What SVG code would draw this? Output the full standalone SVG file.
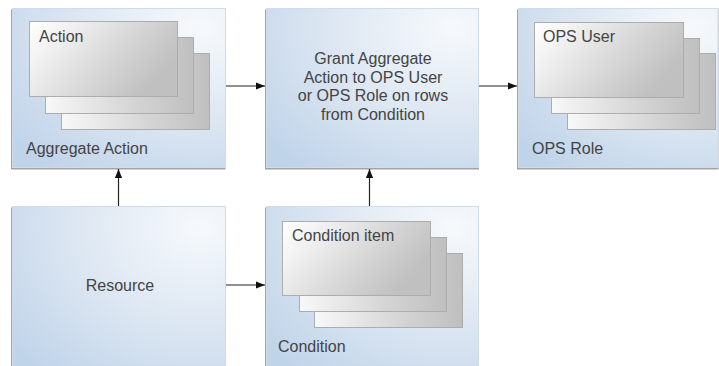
<svg xmlns="http://www.w3.org/2000/svg" width="719" height="366" viewBox="0 0 719 366">
  <defs>
    <radialGradient id="boxGrad" cx="0.88" cy="0.12" r="1.15" fx="0.88" fy="0.12">
      <stop offset="0" stop-color="#f6f9fc"/>
      <stop offset="0.5" stop-color="#dde7f2"/>
      <stop offset="1" stop-color="#bfd3e9"/>
    </radialGradient>
    <linearGradient id="cardGrad" x1="0" y1="0" x2="1" y2="0.45">
      <stop offset="0" stop-color="#ffffff"/>
      <stop offset="0.2" stop-color="#f4f4f4"/>
      <stop offset="0.65" stop-color="#d6d6d6"/>
      <stop offset="1" stop-color="#c0c0c0"/>
    </linearGradient>
    <linearGradient id="backGrad" x1="0" y1="0" x2="1" y2="0">
      <stop offset="0" stop-color="#f8f8f8"/>
      <stop offset="0.6" stop-color="#d4d4d4"/>
      <stop offset="1" stop-color="#bfbfbf"/>
    </linearGradient>
    <marker id="arrow" viewBox="0 0 10 10" refX="10" refY="5" markerWidth="9" markerHeight="9" markerUnits="userSpaceOnUse" orient="auto">
      <path d="M0,1 L10,5 L0,9 Z" fill="#111"/>
    </marker>
  </defs>
  <style>
    .shadow { fill: #a4a4a4; }
    .box { fill: url(#boxGrad); stroke: #cfdcea; stroke-width: 1; }
    .card { fill: url(#cardGrad); stroke: #adadad; stroke-width: 1; }
    .back { fill: url(#backGrad); stroke: #adadad; stroke-width: 1; }
    .lbl { font-family: "Liberation Sans", Arial, sans-serif; font-size: 16px; fill: #444444; }
    .mid { text-anchor: middle; }
    .conn { stroke: #222; stroke-width: 1.2; fill: none; marker-end: url(#arrow); }
  </style>

  <g id="aggregate-action">
    <rect class="shadow" x="11" y="9.5" width="214.5" height="160"/>
    <rect class="box" x="12.5" y="8.5" width="213" height="159"/>
    <rect class="back" x="61.5" y="53.5" width="148" height="76"/>
    <rect class="back" x="45.5" y="37.5" width="148" height="76"/>
    <rect class="card" x="29.5" y="21.5" width="148" height="75"/>
    <text class="lbl" x="39" y="42">Action</text>
    <text class="lbl" x="26" y="154">Aggregate Action</text>
  </g>

  <g id="grant">
    <rect class="shadow" x="265" y="9.5" width="214" height="160"/>
    <rect class="box" x="266.5" y="8.5" width="212" height="159"/>
    <text class="lbl mid" x="373" y="64">Grant Aggregate</text>
    <text class="lbl mid" x="373" y="82.7">Action to OPS User</text>
    <text class="lbl mid" x="373" y="101.4">or OPS Role on rows</text>
    <text class="lbl mid" x="373" y="120">from Condition</text>
  </g>

  <g id="ops-role">
    <rect class="shadow" x="517" y="9.5" width="201.5" height="160"/>
    <rect class="box" x="518.5" y="8.5" width="199.5" height="159"/>
    <rect class="back" x="567.5" y="53.5" width="148" height="76"/>
    <rect class="back" x="551.5" y="38.5" width="148" height="75"/>
    <rect class="card" x="534.5" y="22.5" width="149" height="75"/>
    <text class="lbl" x="543" y="42">OPS User</text>
    <text class="lbl" x="532" y="154">OPS Role</text>
  </g>

  <g id="resource">
    <rect class="shadow" x="11" y="207.5" width="214.5" height="170"/>
    <rect class="box" x="12.5" y="206.5" width="213" height="170"/>
    <text class="lbl mid" x="120" y="291">Resource</text>
  </g>

  <g id="condition">
    <rect class="shadow" x="265" y="207.5" width="214" height="170"/>
    <rect class="box" x="266.5" y="206.5" width="212" height="170"/>
    <rect class="back" x="314.5" y="253.5" width="148" height="74"/>
    <rect class="back" x="299.5" y="237.5" width="147" height="74"/>
    <rect class="card" x="282.5" y="221.5" width="148" height="74"/>
    <text class="lbl" x="292" y="241">Condition item</text>
    <text class="lbl" x="278" y="352">Condition</text>
  </g>

  <g id="connectors">
    <line class="conn" x1="226" y1="86" x2="265" y2="86"/>
    <line class="conn" x1="479" y1="86" x2="517" y2="86"/>
    <line class="conn" x1="118.5" y1="206" x2="118.5" y2="169"/>
    <line class="conn" x1="369.5" y1="206" x2="369.5" y2="169"/>
    <line class="conn" x1="226" y1="285" x2="265" y2="285"/>
  </g>
</svg>
